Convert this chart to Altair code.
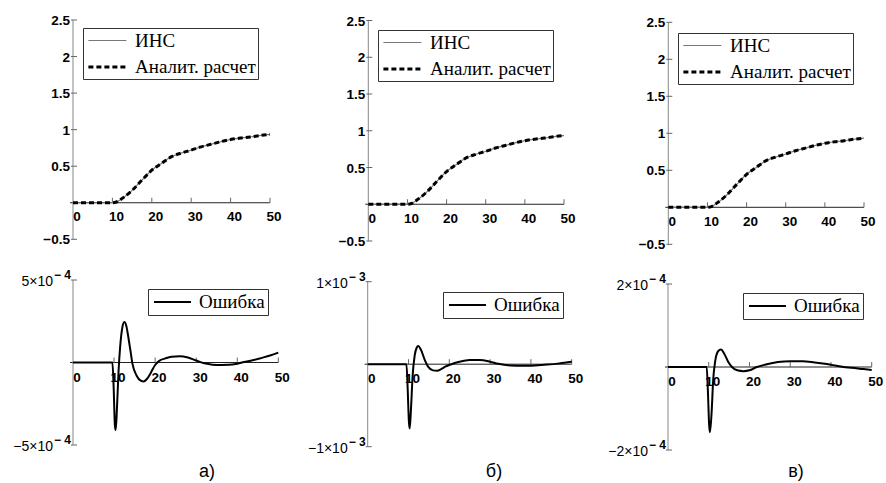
import altair as alt
import pandas as pd

# ---------------- data ----------------
t_top = [0, 2.5, 5, 7.5, 10, 11, 12.5, 15, 17.5, 20, 22.5, 25, 27.5, 30, 32.5, 35, 37.5, 40, 42.5, 45, 47.5, 50]
ins_top = [0, 0, 0, 0, 0, 0.01, 0.06, 0.17, 0.31, 0.445, 0.54, 0.63, 0.68, 0.72, 0.765, 0.80, 0.835, 0.865, 0.885, 0.90, 0.92, 0.935]
anal_top = [0, 0, 0, 0, 0, 0.01, 0.06, 0.17, 0.31, 0.445, 0.54, 0.63, 0.68, 0.72, 0.765, 0.80, 0.835, 0.865, 0.885, 0.90, 0.92, 0.935]

t_err_a = [0, 5, 9.6, 9.9, 10.2, 10.4, 10.7, 11.1, 11.5, 12, 12.5, 13, 13.5, 14, 14.5, 15.5, 16.5, 17.2, 18, 19, 20, 21,
           22.5, 24, 26, 28, 30, 32, 34, 36, 38, 40, 42, 44, 46, 48, 50]
err_a = [0, 0, 0, -1.5e-4, -3.8e-4, -4.1e-4, -2.8e-4, -0.5e-4, 1.0e-4, 2.1e-4, 2.45e-4, 2.2e-4, 1.5e-4, 0.7e-4, -0.1e-4,
         -0.8e-4, -1.1e-4, -1.15e-4, -1.0e-4, -0.6e-4, -0.15e-4, 0.1e-4, 0.25e-4, 0.35e-4, 0.38e-4, 0.3e-4, 0.12e-4,
         -0.05e-4, -0.13e-4, -0.15e-4, -0.14e-4, -0.07e-4, 0.05e-4, 0.15e-4, 0.28e-4, 0.42e-4, 0.6e-4]

t_err_b = [0, 5, 9.5, 9.8, 10.1, 10.3, 10.6, 11, 11.5, 12, 12.4, 13, 14, 14.8, 16, 17, 18, 19, 20.5, 22.5, 25, 27.5,
           30, 32, 35, 38, 41, 44, 47, 50]
err_b = [0, 0, 0, -0.3e-3, -0.7e-3, -0.78e-3, -0.55e-3, -0.15e-3, 0.1e-3, 0.2e-3, 0.22e-3, 0.18e-3, 0.05e-3, -0.03e-3,
         -0.075e-3, -0.08e-3, -0.06e-3, -0.03e-3, 0, 0.03e-3, 0.05e-3, 0.05e-3, 0.03e-3, 0.005e-3, -0.015e-3,
         -0.02e-3, -0.015e-3, -0.005e-3, 0.01e-3, 0.03e-3]

t_err_c = [0, 5, 9.5, 9.8, 10.1, 10.3, 10.7, 11.1, 11.6, 12.3, 13, 13.8, 14.8, 15.7, 17, 18.5, 20, 21.8, 24, 27, 30,
           33, 36, 39, 42, 45, 48, 50]
err_c = [0, 0, 0, -0.6e-4, -1.4e-4, -1.57e-4, -1.1e-4, -0.3e-4, 0.15e-4, 0.38e-4, 0.42e-4, 0.32e-4, 0.12e-4, 0,
         -0.08e-4, -0.1e-4, -0.08e-4, 0, 0.06e-4, 0.12e-4, 0.14e-4, 0.14e-4, 0.11e-4, 0.07e-4, 0.02e-4, -0.02e-4,
         -0.05e-4, -0.07e-4]

series_top = ["ИНС", "Аналит. расчет"]
series_err = ["Ошибка"]

x_tick_vals = [0, 10, 20, 30, 40, 50]
x_tick_labels = ["0", "10", "20", "30", "40", "50"]
y_top_vals = [-0.5, 0.5, 1, 1.5, 2, 2.5]
y_top_labels = ["−0.5", "0.5", "1", "1.5", "2", "2.5"]

err_limits = {"a": 5e-4, "b": 1e-3, "c": 2e-4}
err_label_main = {"a": ["−5×10", "5×10"], "b": ["−1×10", "1×10"], "c": ["−2×10", "2×10"]}
err_label_sup = {"a": "− 4", "b": "− 3", "c": "− 4"}
captions = ["а)", "б)", "в)"]

TICKFONT = "Liberation Sans"
SERIF = "Liberation Serif"


def axis_layers(xs, ys, ydom, ytick_vals, ytick_texts, xlab_dy, sup=None):
    layers = []
    layers.append(
        alt.Chart(pd.DataFrame({"a": [x_tick_vals[0]], "b": [x_tick_vals[-1]], "y": [0]}))
        .mark_rule(color="#222", strokeWidth=1, xOffset=-3)
        .encode(x=alt.X("a:Q", scale=xs, axis=None), x2="b:Q", y=alt.Y("y:Q", scale=ys, axis=None))
    )
    layers.append(
        alt.Chart(pd.DataFrame({"x": [0], "y1": [ydom[0]], "y2": [ydom[1]]}))
        .mark_rule(color="#888", strokeWidth=1)
        .encode(x=alt.X("x:Q", scale=xs, axis=None), y=alt.Y("y1:Q", scale=ys, axis=None), y2="y2:Q")
    )
    layers.append(
        alt.Chart(pd.DataFrame({"x": x_tick_vals[1:], "y": [0] * (len(x_tick_vals) - 1)}))
        .mark_rule(color="#666", strokeWidth=1, y2Offset=-5)
        .encode(x=alt.X("x:Q", scale=xs, axis=None), y=alt.Y("y:Q", scale=ys, axis=None), y2="y:Q")
    )
    layers.append(
        alt.Chart(pd.DataFrame({"x": x_tick_vals, "y": [0] * len(x_tick_vals), "t": x_tick_labels}))
        .mark_text(font=TICKFONT, fontSize=13.5, fontWeight="bold", color="#000", align="center",
                   baseline="middle", dx=4, dy=xlab_dy)
        .encode(x=alt.X("x:Q", scale=xs, axis=None), y=alt.Y("y:Q", scale=ys, axis=None), text="t:N")
    )
    layers.append(
        alt.Chart(pd.DataFrame({"x": [0] * len(ytick_vals), "y": ytick_vals}))
        .mark_rule(color="#666", strokeWidth=1, xOffset=-2, x2Offset=4)
        .encode(x=alt.X("x:Q", scale=xs, axis=None), x2="x:Q", y=alt.Y("y:Q", scale=ys, axis=None))
    )
    if sup is None:
        layers.append(
            alt.Chart(pd.DataFrame({"x": [0] * len(ytick_vals), "y": ytick_vals, "t": ytick_texts}))
            .mark_text(font=TICKFONT, fontSize=13.5, fontWeight="bold", color="#000", align="right",
                       baseline="middle", dx=-3, dy=1)
            .encode(x=alt.X("x:Q", scale=xs, axis=None), y=alt.Y("y:Q", scale=ys, axis=None), text="t:N")
        )
    else:
        layers.append(
            alt.Chart(pd.DataFrame({"x": [0] * len(ytick_vals), "y": ytick_vals, "t": ytick_texts}))
            .mark_text(font=TICKFONT, fontSize=14, color="#000", align="right",
                       baseline="middle", dx=-20, dy=2)
            .encode(x=alt.X("x:Q", scale=xs, axis=None), y=alt.Y("y:Q", scale=ys, axis=None), text="t:N")
        )
        layers.append(
            alt.Chart(pd.DataFrame({"x": [0] * len(ytick_vals), "y": ytick_vals, "t": [sup] * len(ytick_vals)}))
            .mark_text(font=TICKFONT, fontSize=12, fontWeight="bold", color="#000", align="right",
                       baseline="middle", dx=-2, dy=-5)
            .encode(x=alt.X("x:Q", scale=xs, axis=None), y=alt.Y("y:Q", scale=ys, axis=None), text="t:N")
        )
    return layers


def top_panel(xr, yr, leg_xy):
    xs = alt.Scale(domain=[0, 50], range=xr, nice=False, zero=False)
    ydom = [-0.5, 2.5]
    ys = alt.Scale(domain=ydom, range=yr, nice=False, zero=False)
    layers = axis_layers(xs, ys, ydom, y_top_vals, y_top_labels, 14.5)
    leg = alt.Legend(orient="none", legendX=leg_xy[0], legendY=leg_xy[1], title=None,
                     strokeColor="#333", fillColor="white", padding=2, labelFont=SERIF,
                     labelFontSize=19, labelColor="#000", symbolType="M-0.8,0H3.2", symbolSize=361,
                     rowPadding=5, labelOffset=28, labelLimit=400, cornerRadius=0)
    color = alt.Color("s:N", scale=alt.Scale(domain=series_top, range=["#777", "#000"]), legend=leg)
    dash = alt.StrokeDash("s:N", scale=alt.Scale(domain=series_top, range=[[1, 0], [5, 3]]), legend=leg)
    sw = alt.StrokeWidth("s:N", scale=alt.Scale(domain=series_top, range=[1.2, 3]), legend=leg)
    for name, vals in zip(series_top, [ins_top, anal_top]):
        df = pd.DataFrame({"t": t_top, "v": vals, "s": [name] * len(t_top)})
        layers.append(
            alt.Chart(df).mark_line(interpolate="monotone").encode(
                x=alt.X("t:Q", scale=xs, axis=None), y=alt.Y("v:Q", scale=ys, axis=None),
                color=color, strokeDash=dash, strokeWidth=sw)
        )
    return alt.layer(*layers)


def err_panel(key, tvals, evals, xr, yr, leg_xy, cap, cap_xy):
    lim = err_limits[key]
    xs = alt.Scale(domain=[0, 50], range=xr, nice=False, zero=False)
    ydom = [-lim, lim]
    ys = alt.Scale(domain=ydom, range=yr, nice=False, zero=False)
    layers = axis_layers(xs, ys, ydom, [-lim, lim], err_label_main[key], 15, sup=err_label_sup[key])
    leg = alt.Legend(orient="none", legendX=leg_xy[0], legendY=leg_xy[1], title=None,
                     strokeColor="#333", fillColor="white", padding=3, labelFont=SERIF,
                     labelFontSize=19, labelColor="#000", symbolType="M-0.78,0H3.33", symbolSize=324,
                     symbolStrokeWidth=2, labelOffset=28, labelLimit=400, cornerRadius=0)
    df = pd.DataFrame({"t": tvals, "v": evals, "s": series_err * len(tvals)})
    layers.append(
        alt.Chart(df).mark_line(interpolate="monotone", strokeWidth=2).encode(
            x=alt.X("t:Q", scale=xs, axis=None), y=alt.Y("v:Q", scale=ys, axis=None),
            color=alt.Color("s:N", scale=alt.Scale(domain=series_err, range=["#000"]), legend=leg))
    )
    layers.append(
        alt.Chart(pd.DataFrame({"c": [cap]})).mark_text(font=TICKFONT, fontSize=18, color="#000",
                                                       align="center", baseline="middle")
        .encode(x=alt.value(cap_xy[0]), y=alt.value(cap_xy[1]), text="c:N")
    )
    return alt.layer(*layers)


res = dict(x="independent", y="independent", color="independent",
           strokeDash="independent", strokeWidth="independent")

panels = [
    top_panel([73, 270], [239.3, 20], (83, 28)),
    top_panel([368.3, 564], [241, 20.5], (378, 30)),
    top_panel([668.3, 864], [244.3, 22.3], (678, 33)),
    err_panel("a", t_err_a, err_a, [73, 278.3], [445, 280], (148, 289), captions[0], (207, 472)),
    err_panel("b", t_err_b, err_b, [367.7, 571.7], [446.7, 281.7], (443, 292), captions[1], (494, 472)),
    err_panel("c", t_err_c, err_c, [668, 871.7], [450, 284], (743, 293), captions[2], (796, 472)),
]

chart = (
    alt.layer(*panels)
    .resolve_scale(**res)
    .properties(width=886, height=483, padding=0, background="white",
                autosize=alt.AutoSizeParams(type="none"))
    .configure_view(stroke=None)
)

chart.save("out.html", embed_options={"renderer": "svg", "actions": False})
